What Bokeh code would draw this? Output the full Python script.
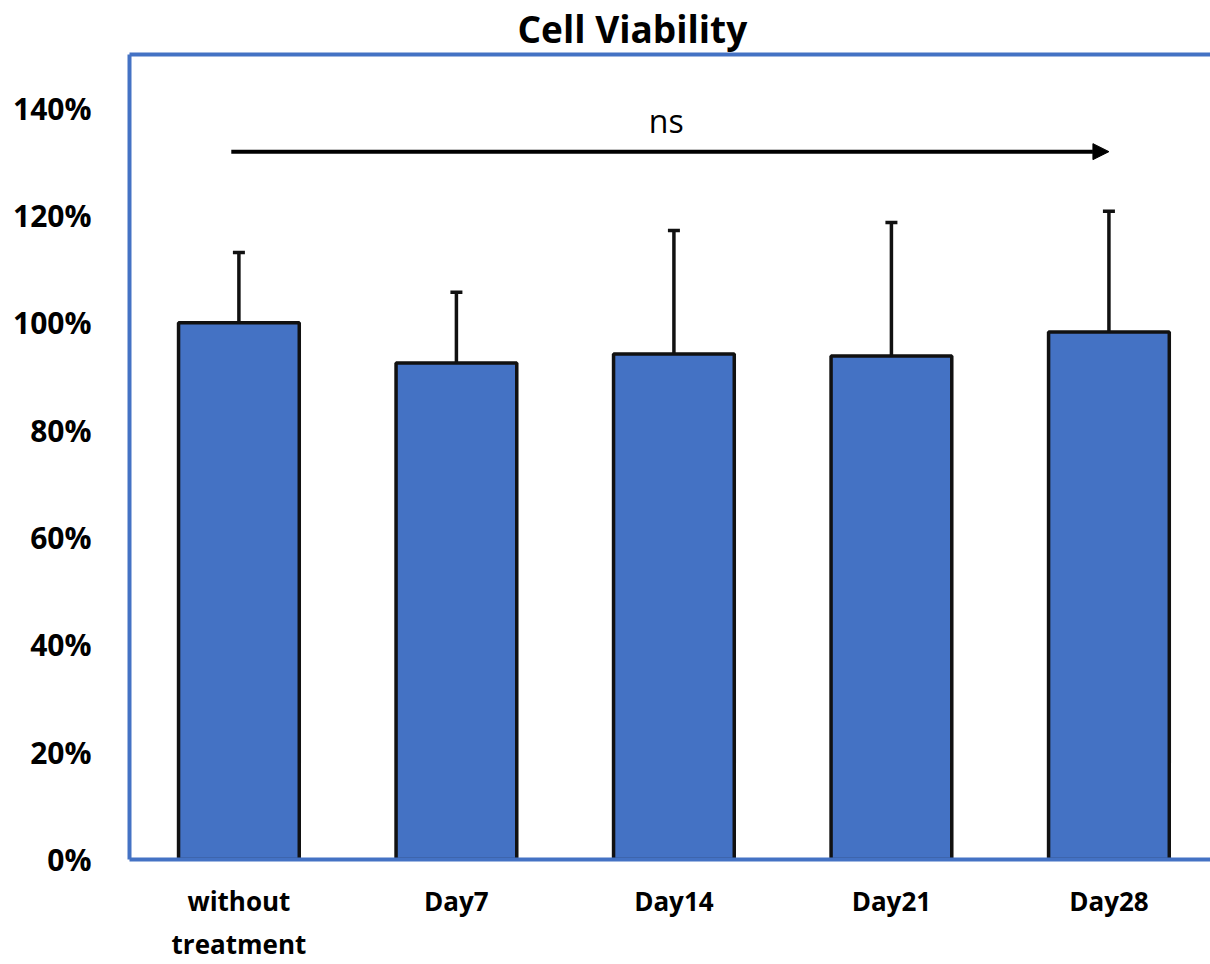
from bokeh.plotting import figure
from bokeh.models import (Range1d, LinearAxis, FixedTicker, PrintfTickFormatter,
                          Whisker, TeeHead, Arrow, NormalHead, Label, ColumnDataSource)
from bokeh.embed import file_html
from bokeh.resources import INLINE

# Cell viability (% of untreated control), mean and upward SD
categories = ["without\ntreatment", "Day7", "Day14", "Day21", "Day28"]
viability = [100.0, 92.5, 94.2, 93.8, 98.3]
sd = [13.1, 13.2, 23.0, 24.9, 22.5]
y_ticks = [0, 20, 40, 60, 80, 100, 120, 140]
significance = "ns"

BLUE = "#4472C4"
FONT = "Open Sans"

positions = list(range(len(categories)))
upper = [m + s for m, s in zip(viability, sd)]
src = ColumnDataSource(dict(x=positions, top=viability, upper=upper))

p = figure(width=1210, height=964,
           x_range=Range1d(-0.503, 4.467), y_range=Range1d(0, 150),
           output_backend="svg", toolbar_location=None,
           min_border_left=129, min_border_right=0,
           min_border_top=54, min_border_bottom=105,
           x_axis_location=None, y_axis_location=None)
p.grid.visible = False
p.outline_line_color = None
p.background_fill_color = "white"
p.border_fill_color = "white"

p.title.text = "Cell Viability"
p.title.text_font = FONT
p.title.text_font_style = "bold"
p.title.text_font_size = "37px"
p.title.text_color = "black"
p.title.align = "left"
p.title.offset = 388
p.title.standoff = 1

# left axis: percentage ticks, blue spine
yax = LinearAxis(ticker=FixedTicker(ticks=y_ticks),
                 formatter=PrintfTickFormatter(format="%d%%"))
yax.axis_line_color = BLUE
yax.axis_line_width = 4
yax.major_tick_line_color = None
yax.minor_tick_line_color = None
yax.major_label_text_font = FONT
yax.major_label_text_font_style = "bold"
yax.major_label_text_font_size = "30px"
yax.major_label_text_color = "black"
yax.major_label_standoff = 32
p.add_layout(yax, "left")

# bottom axis: category labels
xax = LinearAxis(ticker=FixedTicker(ticks=positions),
                 major_label_overrides={i: c for i, c in zip(positions, categories)})
xax.axis_line_color = BLUE
xax.axis_line_width = 4
xax.major_tick_line_color = None
xax.minor_tick_line_color = None
xax.major_label_text_font = FONT
xax.major_label_text_font_style = "bold"
xax.major_label_text_font_size = "26px"
xax.major_label_text_color = "black"
xax.major_label_standoff = 17
p.add_layout(xax, "below")

# top spine
tax = LinearAxis(ticker=FixedTicker(ticks=[]))
tax.axis_line_color = BLUE
tax.axis_line_width = 4
tax.major_tick_line_color = None
tax.minor_tick_line_color = None
tax.major_label_text_font_size = "0px"
p.add_layout(tax, "above")

p.vbar(x="x", top="top", width=0.555, source=src,
       fill_color=BLUE, line_color="#111111", line_width=3.5)

p.add_layout(Whisker(source=src, base="x", lower="top", upper="upper",
                     line_color="#111111", line_width=3.5,
                     lower_head=None,
                     upper_head=TeeHead(size=12, line_color="#111111", line_width=3.5)))

# significance arrow spanning all groups
arrow_y = 131.9
p.add_layout(Arrow(x_start=positions[0] - 0.035, y_start=arrow_y,
                   x_end=positions[-1], y_end=arrow_y,
                   line_color="black", line_width=4,
                   end=NormalHead(size=16, fill_color="black", line_color="black", line_width=1)))
p.add_layout(Label(x=(positions[0] + positions[-1]) / 2 - 0.035, y=arrow_y + 1.8,
                   text=significance, text_font=FONT, text_font_size="32px",
                   text_align="center", text_baseline="bottom", text_color="black"))

open("out.html", "w").write(file_html(p, INLINE))
